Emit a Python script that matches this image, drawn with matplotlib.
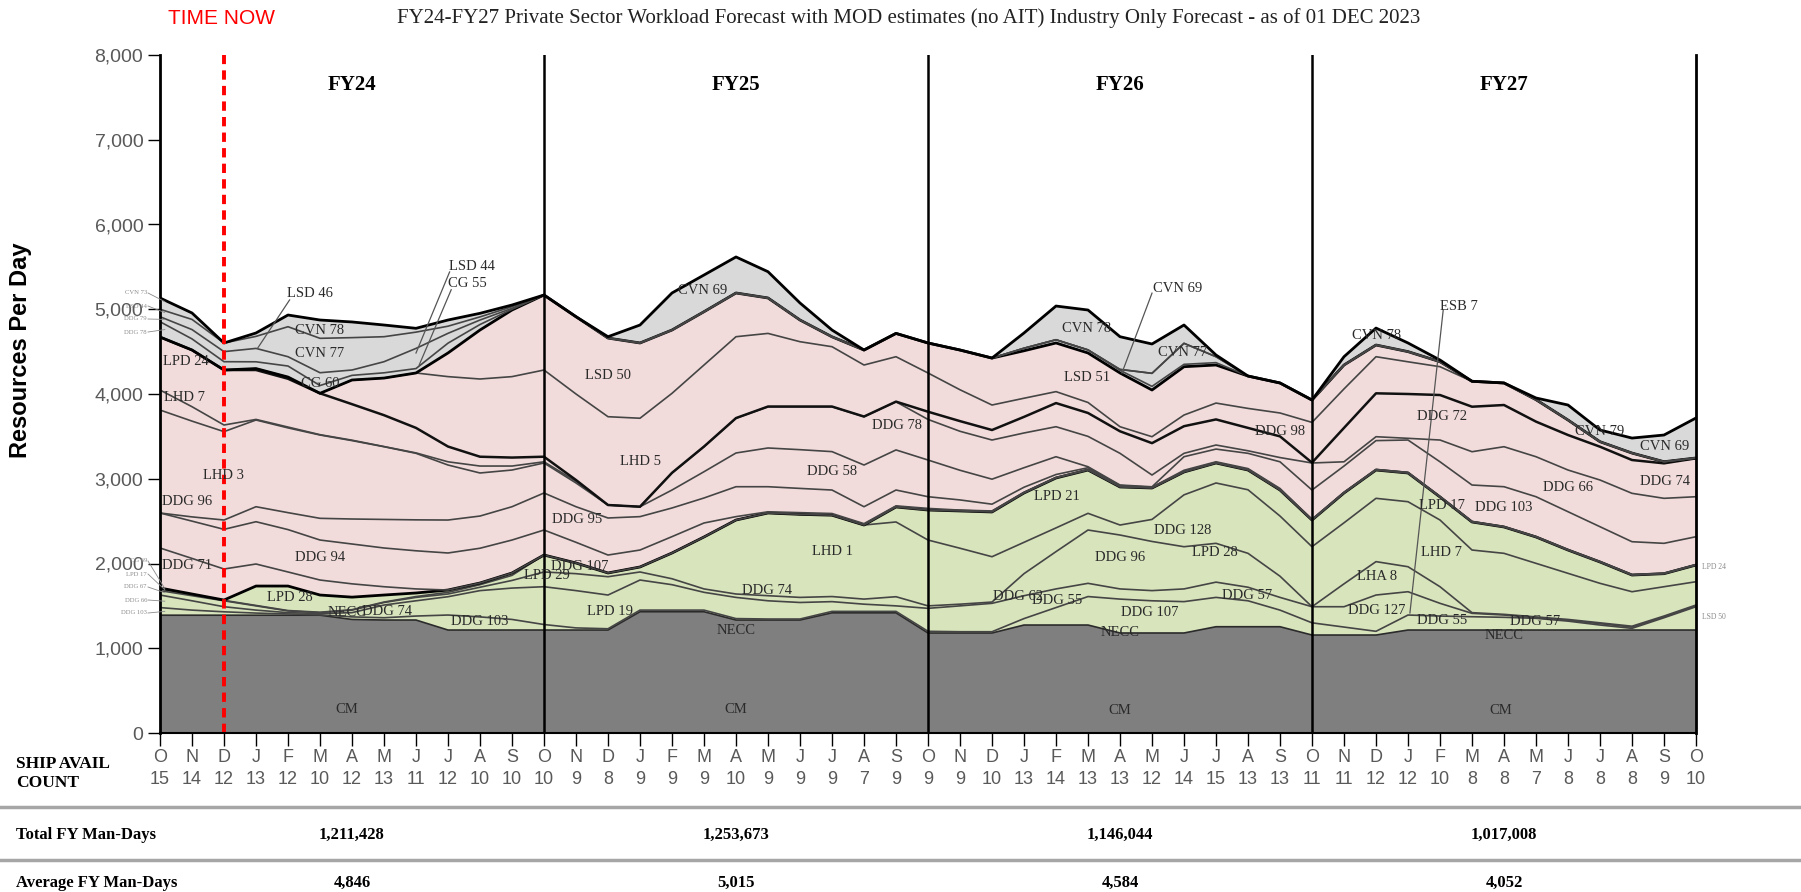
import numpy as np
import matplotlib
matplotlib.use("Agg")
import matplotlib.pyplot as plt
from matplotlib.transforms import blended_transform_factory
from matplotlib.lines import Line2D

# month axis: Oct FY24 .. Oct FY28 (49 points)
months = list("ONDJFMAMJJAS") * 4 + ["O"]
avail_count = [15, 14, 12, 13, 12, 10, 12, 13, 11, 12, 10, 10,
               10, 9, 8, 9, 9, 9, 10, 9, 9, 9, 7, 9,
               9, 9, 10, 13, 14, 13, 13, 12, 14, 15, 13, 13,
               11, 11, 12, 12, 10, 8, 8, 7, 8, 8, 8, 9, 10]
fiscal_years = ["FY24", "FY25", "FY26", "FY27"]
total_man_days = ["1,211,428", "1,253,673", "1,146,044", "1,017,008"]
avg_man_days = ["4,846", "5,015", "4,584", "4,052"]

# cumulative boundaries (resources per day)
cm_top = [1390, 1390, 1390, 1390, 1390, 1390, 1340, 1333, 1333, 1215, 1215, 1215, 1215,
          1215, 1215, 1431, 1431, 1431, 1333, 1333, 1333, 1418, 1418, 1418, 1180,
          1180, 1180, 1274, 1274, 1274, 1180, 1180, 1180, 1254, 1254, 1254, 1156,
          1156, 1156, 1215, 1215, 1215, 1215, 1215, 1215, 1215, 1215, 1215, 1215]
green_1 = [1480, 1450, 1430, 1415, 1405, 1395, 1370, 1360, 1380, 1392, 1370, 1340, 1280,
           1240, 1230, 1450, 1450, 1450, 1350, 1345, 1345, 1435, 1435, 1435, 1200,
           1195, 1195, 1350, 1480, 1610, 1580, 1560, 1550, 1600, 1560, 1450, 1300,
           1250, 1200, 1392, 1380, 1372, 1365, 1353, 1320, 1274, 1235, 1360, 1490]
green_2 = [1628, 1560, 1490, 1450, 1420, 1410, 1420, 1510, 1560, 1608, 1680, 1710, 1726,
           1680, 1628, 1805, 1750, 1660, 1600, 1560, 1540, 1550, 1520, 1500, 1471,
           1500, 1530, 1620, 1700, 1766, 1700, 1680, 1700, 1780, 1720, 1600, 1490,
           1490, 1628, 1667, 1530, 1412, 1392, 1360, 1330, 1290, 1250, 1370, 1500]
green_3 = [1680, 1620, 1560, 1500, 1440, 1420, 1450, 1540, 1600, 1640, 1720, 1800, 1900,
           1880, 1844, 1900, 1820, 1700, 1640, 1620, 1600, 1610, 1580, 1608, 1500,
           1520, 1545, 1880, 2140, 2395, 2336, 2260, 2198, 2238, 2120, 1850, 1490,
           1760, 2022, 1962, 1726, 1420, 1400, 1370, 1340, 1300, 1260, 1380, 1510]
green_4 = [1700, 1635, 1565, 1505, 1445, 1425, 1455, 1545, 1610, 1660, 1750, 1860, 2100,
           2006, 1888, 1959, 2124, 2313, 2513, 2596, 2580, 2570, 2454, 2490, 2277,
           2180, 2080, 2250, 2420, 2592, 2454, 2520, 2810, 2950, 2870, 2560, 2198,
           2480, 2769, 2729, 2513, 2159, 2120, 2002, 1884, 1766, 1667, 1726, 1785]
green_top = [1711, 1640, 1569, 1734, 1734, 1628, 1603, 1628, 1652, 1687, 1770, 1888, 2100,
             2006, 1888, 1959, 2124, 2313, 2513, 2596, 2580, 2570, 2454, 2667, 2631,
             2620, 2608, 2832, 3009, 3103, 2903, 2891, 3080, 3186, 3103, 2867, 2513,
             2832, 3103, 3068, 2785, 2490, 2431, 2313, 2159, 2018, 1864, 1880, 1982]
pink_1 = [2183, 2060, 1935, 1994, 1900, 1805, 1760, 1726, 1700, 1687, 1770, 1888, 2100,
          2006, 1888, 1959, 2124, 2313, 2513, 2596, 2580, 2570, 2454, 2667, 2631,
          2620, 2608, 2832, 3009, 3103, 2903, 2891, 3080, 3186, 3103, 2867, 2513,
          2832, 3103, 3068, 2785, 2490, 2431, 2313, 2159, 2018, 1864, 1880, 1982]
pink_2 = [2596, 2500, 2403, 2493, 2400, 2277, 2230, 2183, 2150, 2124, 2180, 2277, 2395,
          2250, 2100, 2159, 2317, 2478, 2553, 2610, 2600, 2590, 2470, 2680, 2650,
          2630, 2620, 2840, 3015, 3110, 2910, 2895, 3085, 3190, 3108, 2870, 2515,
          2835, 3105, 3070, 2788, 2492, 2433, 2315, 2161, 2020, 1866, 1882, 1984]
pink_3 = [2596, 2550, 2513, 2670, 2600, 2533, 2525, 2520, 2515, 2513, 2560, 2670, 2832,
          2670, 2537, 2553, 2655, 2773, 2906, 2906, 2886, 2867, 2670, 2867, 2788,
          2750, 2700, 2900, 3050, 3130, 2920, 2900, 3100, 3200, 3120, 2885, 2520,
          2840, 3110, 3075, 2790, 2495, 2436, 2318, 2164, 2023, 1869, 1885, 1987]
pink_4 = [3811, 3680, 3556, 3693, 3600, 3516, 3450, 3378, 3300, 3162, 3068, 3103, 3186,
          2950, 2690, 2670, 2867, 3083, 3304, 3363, 3343, 3320, 3162, 3340, 3221,
          3100, 2995, 3130, 3260, 3142, 2926, 2905, 3260, 3350, 3300, 3200, 2867,
          3150, 3450, 3457, 3200, 2926, 2906, 2788, 2611, 2434, 2257, 2238, 2316]
pink_5 = [4047, 3850, 3634, 3700, 3610, 3520, 3455, 3380, 3305, 3200, 3150, 3150, 3200,
          2970, 2690, 2670, 3068, 3378, 3714, 3850, 3850, 3850, 3732, 3908, 3700,
          3560, 3457, 3540, 3614, 3500, 3300, 3044, 3300, 3398, 3330, 3250, 3186,
          3200, 3496, 3477, 3457, 3319, 3378, 3260, 3103, 2985, 2828, 2769, 2788]
pink_6 = [4672, 4519, 4283, 4283, 4180, 4008, 3880, 3750, 3600, 3380, 3260, 3250, 3260,
          2985, 2690, 2670, 3070, 3380, 3716, 3852, 3852, 3852, 3734, 3910, 3791,
          3680, 3575, 3730, 3893, 3776, 3560, 3420, 3620, 3700, 3600, 3500, 3190,
          3600, 4008, 4000, 3988, 3850, 3870, 3674, 3516, 3378, 3221, 3182, 3241]
pink_7 = [4672, 4519, 4283, 4300, 4200, 4008, 4165, 4188, 4248, 4205, 4177, 4205, 4283,
          4000, 3732, 3714, 4008, 4342, 4676, 4715, 4617, 4558, 4342, 4440, 4248,
          4050, 3870, 3950, 4028, 3900, 3614, 3496, 3752, 3893, 3830, 3776, 3665,
          4060, 4440, 4380, 4322, 4150, 4130, 3933, 3693, 3437, 3303, 3201, 3245]
pink_top = [4672, 4519, 4283, 4300, 4200, 4008, 4165, 4188, 4248, 4484, 4755, 4991, 5168,
            4912, 4660, 4602, 4755, 4971, 5192, 5133, 4873, 4675, 4519, 4715, 4602,
            4519, 4424, 4510, 4602, 4484, 4248, 4047, 4322, 4342, 4212, 4130, 3929,
            4342, 4578, 4500, 4381, 4150, 4130, 3933, 3693, 3437, 3303, 3201, 3245]
gray_1 = [4853, 4650, 4381, 4380, 4330, 4100, 4220, 4250, 4300, 4600, 4820, 5000, 5168,
          4912, 4660, 4602, 4755, 4971, 5192, 5133, 4873, 4675, 4519, 4715, 4602,
          4519, 4424, 4540, 4640, 4520, 4280, 4090, 4350, 4370, 4212, 4130, 3929,
          4342, 4578, 4500, 4381, 4150, 4130, 3933, 3693, 3437, 3303, 3201, 3245]
gray_2 = [4912, 4760, 4500, 4538, 4440, 4251, 4283, 4381, 4538, 4716, 4873, 5011, 5168,
          4912, 4660, 4602, 4755, 4971, 5192, 5133, 4873, 4675, 4519, 4715, 4602,
          4519, 4424, 4540, 4640, 4520, 4290, 4244, 4598, 4440, 4212, 4130, 3929,
          4342, 4578, 4500, 4381, 4150, 4130, 3933, 3693, 3437, 3303, 3201, 3245]
gray_3 = [5000, 4880, 4602, 4680, 4794, 4657, 4665, 4676, 4730, 4800, 4910, 5030, 5168,
          4912, 4660, 4602, 4755, 4971, 5192, 5133, 4873, 4675, 4519, 4715, 4602,
          4519, 4424, 4540, 4640, 4520, 4290, 4244, 4598, 4440, 4212, 4130, 3929,
          4342, 4578, 4500, 4381, 4150, 4130, 3933, 3693, 3437, 3303, 3201, 3245]
total_top = [5133, 4956, 4602, 4720, 4932, 4873, 4850, 4814, 4775, 4873, 4952, 5050, 5168,
             4912, 4676, 4814, 5192, 5404, 5617, 5443, 5074, 4755, 4519, 4715, 4602,
             4519, 4424, 4720, 5038, 4991, 4676, 4590, 4814, 4460, 4212, 4130, 3929,
             4440, 4778, 4602, 4401, 4150, 4130, 3953, 3870, 3575, 3480, 3516, 3717]

# ship labels inside the chart: (text, month, value)
ship_labels = [
    ("LSD 46", 4.7, 5188), ("LSD 44", 9.75, 5510), ("CG 55", 9.6, 5298),
    ("CVN 78", 5.0, 4755), ("CVN 77", 5.0, 4472), ("CG 60", 5.0, 4118),
    ("LPD 24", 0.8, 4378), ("LHD 7", 0.75, 3953), ("LHD 3", 1.97, 3044),
    ("DDG 96", 0.85, 2726), ("DDG 71", 0.85, 1982), ("DDG 94", 5.0, 2065),
    ("LPD 28", 4.06, 1593), ("NECC", 5.84, 1416), ("DDG 74", 7.1, 1428),
    ("DDG 103", 10.0, 1310), ("CM", 5.84, 283),
    ("CVN 69", 16.97, 5227), ("LSD 50", 14.0, 4224), ("DDG 78", 23.03, 3634),
    ("LHD 5", 15.0, 3198), ("DDG 58", 21.0, 3080), ("DDG 95", 13.03, 2525),
    ("DDG 107", 13.1, 1970), ("LPD 29", 12.1, 1864), ("LHD 1", 21.0, 2136),
    ("DDG 74", 18.97, 1676), ("LPD 19", 14.06, 1428), ("NECC", 18.0, 1215),
    ("CM", 18.0, 283),
    ("CVN 69", 31.8, 5239), ("CVN 78", 28.97, 4767), ("CVN 77", 31.97, 4484),
    ("LSD 51", 28.97, 4200), ("DDG 98", 35.0, 3552), ("LPD 21", 28.03, 2785),
    ("DDG 128", 31.97, 2395), ("DDG 96", 30.0, 2065), ("LPD 28", 32.97, 2124),
    ("DDG 62", 26.8, 1605), ("DDG 55", 28.03, 1569), ("DDG 107", 30.94, 1416),
    ("DDG 57", 33.97, 1628), ("NECC", 30.0, 1180), ("CM", 30.0, 265),
    ("CVN 78", 38.03, 4696), ("ESB 7", 40.6, 5027), ("DDG 72", 40.06, 3729),
    ("DDG 66", 44.0, 2891), ("CVN 79", 45.0, 3552), ("CVN 69", 47.03, 3375),
    ("DDG 74", 47.03, 2962), ("LPD 17", 40.06, 2690), ("DDG 103", 42.0, 2655),
    ("LHD 7", 40.06, 2124), ("LHA 8", 38.03, 1841), ("DDG 127", 38.03, 1451),
    ("DDG 55", 40.06, 1333), ("DDG 57", 42.97, 1310), ("NECC", 42.0, 1156),
    ("CM", 41.9, 265),
]
# leader lines for a few labels: (month from, value from, month to, value to)
leaders = [(4.05, 5110, 3.05, 4540), (9.05, 5440, 8.0, 4484), (9.1, 5230, 8.1, 4342),
           (31.0, 5190, 30.06, 4248), (40.1, 4990, 39.06, 1416)]
# tiny labels left of the axis: (text, pixel y, target value at month 0)
margin_labels = [("CVN 73", 293, 5090), ("LSD 44", 306, 4960), ("DDG 79", 319, 4880),
                 ("DDG 78", 332, 4760), ("CG 69", 561, 1705), ("LPD 17", 574, 1690),
                 ("DDG 67", 587, 1655), ("DDG 66", 600, 1555), ("DDG 103", 613, 1435)]

W, H = 1801, 892
fig = plt.figure(figsize=(W / 100, H / 100), dpi=100)
ax = fig.add_axes([160 / W, 159 / H, 1536 / W, 678 / H])

def fx(px):
    return px / W

def fy(py):
    return 1 - py / H

x = np.arange(49)
bounds = np.array([cm_top, green_1, green_2, green_3, green_4, green_top,
                   pink_1, pink_2, pink_3, pink_4, pink_5, pink_6, pink_7, pink_top,
                   gray_1, gray_2, gray_3, total_top], dtype=float)
layers = np.diff(np.vstack([np.zeros(49), bounds]), axis=0)
colors = ["#7f7f7f"] + ["#d8e4bc"] * 5 + ["#f2dcdb"] * 8 + ["#d9d9d9"] * 4
ax.stackplot(x, layers, colors=colors, linewidth=0)

for i, b in enumerate(bounds):
    if i in (5, 13, 17):
        ax.plot(x, b, color="black", lw=2.0)
    elif i == 11:
        ax.plot(x, b, color="#111111", lw=1.8)
    elif i == 0:
        ax.plot(x, b, color="#2b2b2b", lw=1.2)
    else:
        ax.plot(x, b, color="#454545", lw=1.2)

for m in (12, 24, 36):
    ax.axvline(m, color="black", lw=1.8)
ax.axvline(2, color="red", lw=2.8, ls=(0, (2.4, 1.6)))

for txt, m, v in ship_labels:
    ax.text(m, v, txt, ha="center", va="center", fontsize=10.5,
            family="Liberation Serif", color="#2a2a2a")
for m0, v0, m1, v1 in leaders:
    ax.plot([m0, m1], [v0, v1], color="#555555", lw=0.9)

for i, fy_name in enumerate(fiscal_years):
    ax.text(6 + 12 * i, 7650, fy_name, ha="center", va="center", fontsize=15,
            fontweight="bold", family="Liberation Serif")

ax.set_xlim(0, 48)
ax.set_ylim(0, 8000)
ax.set_yticks(range(0, 8001, 1000))
ax.set_yticklabels([f"{v:,}" for v in range(0, 8001, 1000)])
ax.set_xticks(x)
ax.set_xticklabels([])
ax.tick_params(axis="y", direction="out", length=9, width=1, pad=3,
               labelsize=14, labelcolor="#595959")
ax.tick_params(axis="x", direction="out", length=9, width=1)
for lab in ax.get_yticklabels():
    lab.set_family("Liberation Sans")
ax.spines["top"].set_visible(False)
ax.spines["left"].set_linewidth(2)
ax.spines["right"].set_linewidth(2)
ax.spines["bottom"].set_linewidth(1.5)

# margin labels: text in figure coords, thin leader to the layer at month 0
to_fig = ax.transData + fig.transFigure.inverted()
for txt, py, v in margin_labels:
    fig.text(fx(147), fy(py), txt, ha="right", va="center", fontsize=4.8,
             family="Liberation Serif", color="#8a8a8a")
    tx, ty = to_fig.transform((0.15, v))
    fig.add_artist(Line2D([fx(148), tx], [fy(py), ty], color="#8a8a8a", lw=0.6))
fig.text(fx(1702), fy(567), "LPD 24", fontsize=5.5, family="Liberation Serif",
         color="#8a8a8a", va="center")
fig.text(fx(1702), fy(617), "LSD 50", fontsize=5.5, family="Liberation Serif",
         color="#8a8a8a", va="center")

# month letters and ship counts under the axis
tr = blended_transform_factory(ax.transData, fig.transFigure)
for m in x:
    ax.text(m, fy(757), months[m], transform=tr, ha="center", va="center",
            fontsize=13, color="#595959", family="Liberation Sans")
    ax.text(m, fy(780), str(avail_count[m]), transform=tr, ha="center", va="center",
            fontsize=13, color="#595959", family="Liberation Sans")
fig.text(fx(16), fy(764), "SHIP AVAIL", fontsize=12.5, fontweight="bold",
         family="Liberation Serif", va="center")
fig.text(fx(16), fy(783), "COUNT", fontsize=12.5, fontweight="bold",
         family="Liberation Serif", va="center")

for py in (807, 860):
    fig.add_artist(Line2D([0, 1], [fy(py), fy(py)], color="#a6a6a6", lw=2.5))
fig.text(fx(16), fy(835), "Total FY Man-Days", fontsize=12, fontweight="bold",
         family="Liberation Serif", va="center")
fig.text(fx(16), fy(883), "Average FY Man-Days", fontsize=12, fontweight="bold",
         family="Liberation Serif", va="center")
for i in range(4):
    ax.text(6 + 12 * i, fy(835), total_man_days[i], transform=tr, ha="center",
            va="center", fontsize=12, fontweight="bold", family="Liberation Serif")
    ax.text(6 + 12 * i, fy(883), avg_man_days[i], transform=tr, ha="center",
            va="center", fontsize=12, fontweight="bold", family="Liberation Serif")

fig.text(fx(21), fy(350), "Resources Per Day", rotation=90, ha="center", va="center",
         fontsize=17, fontweight="bold", family="Liberation Sans")
fig.text(fx(221), fy(18), "TIME NOW", color="red", ha="center", va="center",
         fontsize=15, family="Liberation Sans")
fig.text(fx(909), fy(18), "FY24-FY27 Private Sector Workload Forecast with MOD estimates "
         "(no AIT) Industry Only Forecast - as of 01 DEC 2023", ha="center", va="center",
         fontsize=15, family="Liberation Serif", color="#222222")

fig.savefig("out.png", dpi=100)
